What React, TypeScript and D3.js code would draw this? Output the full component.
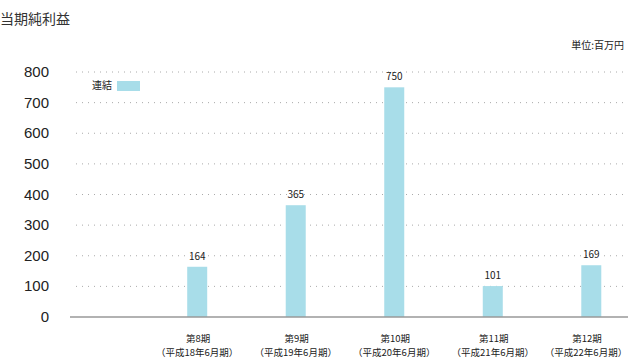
import React from "react";
import * as d3 from "d3";

const categories = ["第8期", "第9期", "第10期", "第11期", "第12期"];
const subLabels = ["（平成18年6月期）", "（平成19年6月期）", "（平成20年6月期）", "（平成21年6月期）", "（平成22年6月期）"];
const values = [164, 365, 750, 101, 169];
const yTicks = [0, 100, 200, 300, 400, 500, 600, 700, 800];

const W = 628, H = 359;
const font = "'Noto Sans CJK JP', 'Noto Sans', sans-serif";

export default function App() {
  const x = d3.scaleBand<string>().domain(categories).range([148, 640.5]).paddingInner(0.797).paddingOuter(0.398);
  const y = d3.scaleLinear().domain([0, 800]).range([317, 72]);
  const bw = 20;
  return (
    <svg width={W} height={H} style={{ position: "absolute", left: 0, top: 0 }}>
      <text x={0} y={24} fontSize={14} fontFamily={font} fill="#333">当期純利益</text>
      <text x={624} y={49} fontSize={10} fontFamily={font} fill="#222" textAnchor="end">単位:百万円</text>
      {yTicks.map((t) => (
        <g key={t}>
          {t > 0 && (
            <line x1={76} x2={628} y1={y(t)} y2={y(t)} stroke="#aaa" strokeWidth={1} strokeDasharray="1 5" />
          )}
          <text x={49} y={y(t) + 5} fontSize={15} fontFamily="'Liberation Sans', Arial, sans-serif" fill="#222" textAnchor="end">{t}</text>
        </g>
      ))}
      {values.map((v, i) => {
        const cx = (x(categories[i]) as number) + x.bandwidth() / 2;
        const lx = Math.min(cx, 586);
        return (
          <g key={i}>
            <rect x={cx - bw / 2} y={y(v)} width={bw} height={y(0) - y(v)} fill="#a8dde9" />
            <text x={cx} y={y(v) - 7} fontSize={10} fontFamily={font} fill="#222" textAnchor="middle">{v}</text>
            <text x={lx + 1} y={342} fontSize={9.5} fontFamily={font} fill="#222" textAnchor="middle">{categories[i]}</text>
            <text x={lx} y={356} fontSize={9.5} fontFamily={font} fill="#222" textAnchor="middle">{subLabels[i]}</text>
          </g>
        );
      })}
      <line x1={70} x2={628} y1={y(0)} y2={y(0)} stroke="#999" strokeWidth={1.5} />
      <text x={92} y={89} fontSize={10} fontFamily={font} fill="#222">連結</text>
      <rect x={117} y={81} width={23} height={10} fill="#a8dde9" />
    </svg>
  );
}
